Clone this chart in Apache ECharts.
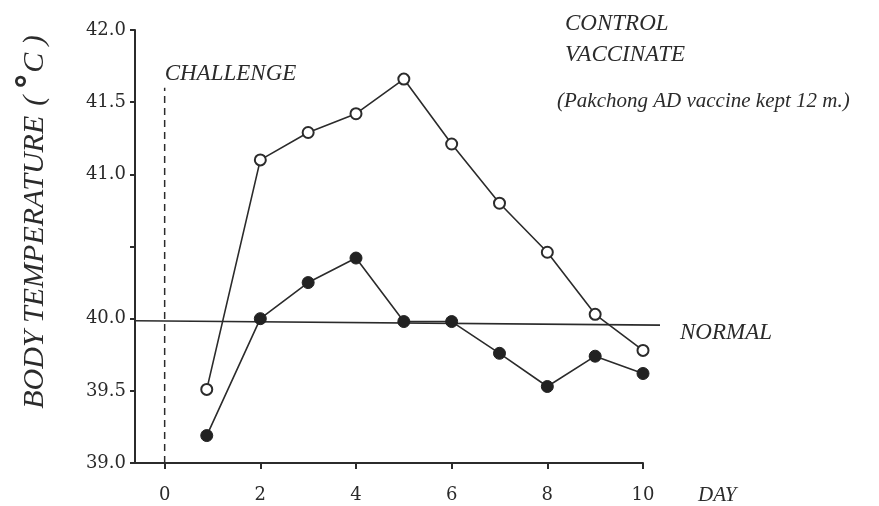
<!DOCTYPE html>
<html>
<head>
<meta charset="utf-8">
<script src="https://cdn.jsdelivr.net/npm/echarts@6/dist/echarts.min.js"></script>
<style>
  html, body { margin: 0; padding: 0; background: #fff; }
  #chart { width: 879px; height: 506px; }
</style>
</head>
<body>
<div id="chart"></div>
<script>
// days after challenge (first reading sits a bit before day 1)
var days = [0.88, 2, 3, 4, 5, 6, 7, 8, 9, 10];
var control = [39.51, 41.10, 41.29, 41.42, 41.66, 41.21, 40.80, 40.46, 40.03, 39.78];
var vaccinate = [39.19, 40.00, 40.25, 40.42, 39.98, 39.98, 39.76, 39.53, 39.74, 39.62];

// the "normal" reference line runs a little past day 10
var normalX = [-0.62, 10.35];
var normalY = [39.99, 39.96];
var challengeX = [0, 0];
var challengeY = [39.0, 41.6];

var xTicks = [0, 2, 4, 6, 8, 10];
var yTicks = [39.0, 39.5, 40.0, 40.5, 41.0, 41.5, 42.0];
var yLabels = [39.0, 39.5, 40.0, 41.0, 41.5, 42.0];

var ink = '#2b2b2b';
var italicFont = 'Liberation Serif';

function pairs(xs, ys) {
    return xs.map(function (x, i) { return [x, ys[i]]; });
}

function italic(size) {
    return {
        fontFamily: italicFont,
        fontStyle: 'italic',
        fontWeight: 'normal',
        fontSize: size,
        color: ink
    };
}

var chart = echarts.init(document.getElementById('chart'));

var normalData = pairs(normalX, normalY);
normalData[1] = {
    value: normalData[1],
    label: Object.assign({
        show: true,
        position: 'right',
        distance: 20,
        offset: [0, 8],
        formatter: 'NORMAL'
    }, italic(23))
};

var challengeData = pairs(challengeX, challengeY);
challengeData[1] = {
    value: challengeData[1],
    label: Object.assign({
        show: true,
        position: 'top',
        align: 'left',
        distance: 2,
        formatter: 'CHALLENGE'
    }, italic(23))
};

var hiddenAxis = {
    show: false,
    splitLine: { show: false }
};

var option = {
    backgroundColor: '#fff',
    animation: false,
    title: {
        text: '(Pakchong AD vaccine kept 12 m.)',
        left: 552,
        top: 86,
        textStyle: italic(21)
    },
    legend: {
        data: ['CONTROL', 'VACCINATE'],
        orient: 'vertical',
        left: 555,
        top: 7,
        icon: 'none',
        itemWidth: 0,
        itemGap: 8,
        selectedMode: false,
        textStyle: italic(23)
    },
    graphic: [
        {
            type: 'text',
            x: 35,
            y: 222,
            rotation: Math.PI / 2,
            style: {
                text: '{t|BODY TEMPERATURE}   {t|(}{d|\u00b0}{t|C )}',
                align: 'center',
                verticalAlign: 'middle',
                rich: {
                    t: { font: 'italic 30px "Liberation Serif"', fill: ink },
                    d: { font: 'bold 34px "DejaVu Sans"', fill: ink, padding: [0, 0, 8, 6] }
                }
            }
        }
    ],
    grid: [
        { left: 135, right: 236, top: 30, bottom: 42 },
        { left: 135, right: 219, top: 30, bottom: 42 }
    ],
    xAxis: [
        {
            type: 'value',
            gridIndex: 0,
            min: -0.62,
            max: 10,
            name: 'DAY',
            nameLocation: 'end',
            nameGap: 55,
            nameTextStyle: Object.assign({
                verticalAlign: 'top',
                padding: [22, 0, 0, 0]
            }, italic(21)),
            axisLine: { onZero: false, lineStyle: { color: ink, width: 2 } },
            axisTick: {
                customValues: xTicks,
                length: 6,
                lineStyle: { color: ink, width: 2 }
            },
            axisLabel: {
                customValues: xTicks,
                margin: 23,
                fontFamily: 'DejaVu Serif',
                fontSize: 18,
                color: '#2a2a2a'
            },
            splitLine: { show: false }
        },
        Object.assign({ type: 'value', gridIndex: 1, min: -0.62, max: 10.35 }, hiddenAxis)
    ],
    yAxis: [
        {
            type: 'value',
            gridIndex: 0,
            min: 39,
            max: 42,
            axisLine: { show: true, onZero: false, lineStyle: { color: ink, width: 2 } },
            axisTick: {
                show: true,
                customValues: yTicks,
                length: 5,
                lineStyle: { color: ink, width: 2 }
            },
            axisLabel: {
                customValues: yLabels,
                margin: 9,
                fontFamily: 'DejaVu Serif',
                fontSize: 18,
                color: '#2a2a2a',
                formatter: function (v) { return v.toFixed(1); }
            },
            splitLine: { show: false }
        },
        Object.assign({ type: 'value', gridIndex: 1, min: 39, max: 42 }, hiddenAxis)
    ],
    series: [
        {
            name: 'NORMAL',
            type: 'line',
            xAxisIndex: 1,
            yAxisIndex: 1,
            data: normalData,
            symbol: 'circle',
            symbolSize: 0,
            lineStyle: { color: ink, width: 1.6 },
            silent: true,
            z: 1
        },
        {
            name: 'CHALLENGE',
            type: 'line',
            data: challengeData,
            symbol: 'circle',
            symbolSize: 0,
            lineStyle: { color: ink, width: 1.5, type: [7, 5] },
            silent: true,
            z: 1
        },
        {
            name: 'CONTROL',
            type: 'line',
            data: pairs(days, control),
            symbol: 'circle',
            symbolSize: 11,
            itemStyle: { color: '#fff', borderColor: ink, borderWidth: 2 },
            lineStyle: { color: ink, width: 1.6 },
            z: 3
        },
        {
            name: 'VACCINATE',
            type: 'line',
            data: pairs(days, vaccinate),
            symbol: 'circle',
            symbolSize: 12,
            itemStyle: { color: '#222', borderColor: '#222', borderWidth: 1 },
            lineStyle: { color: ink, width: 1.6 },
            z: 3
        }
    ]
};

chart.setOption(option);
</script>
</body>
</html>
